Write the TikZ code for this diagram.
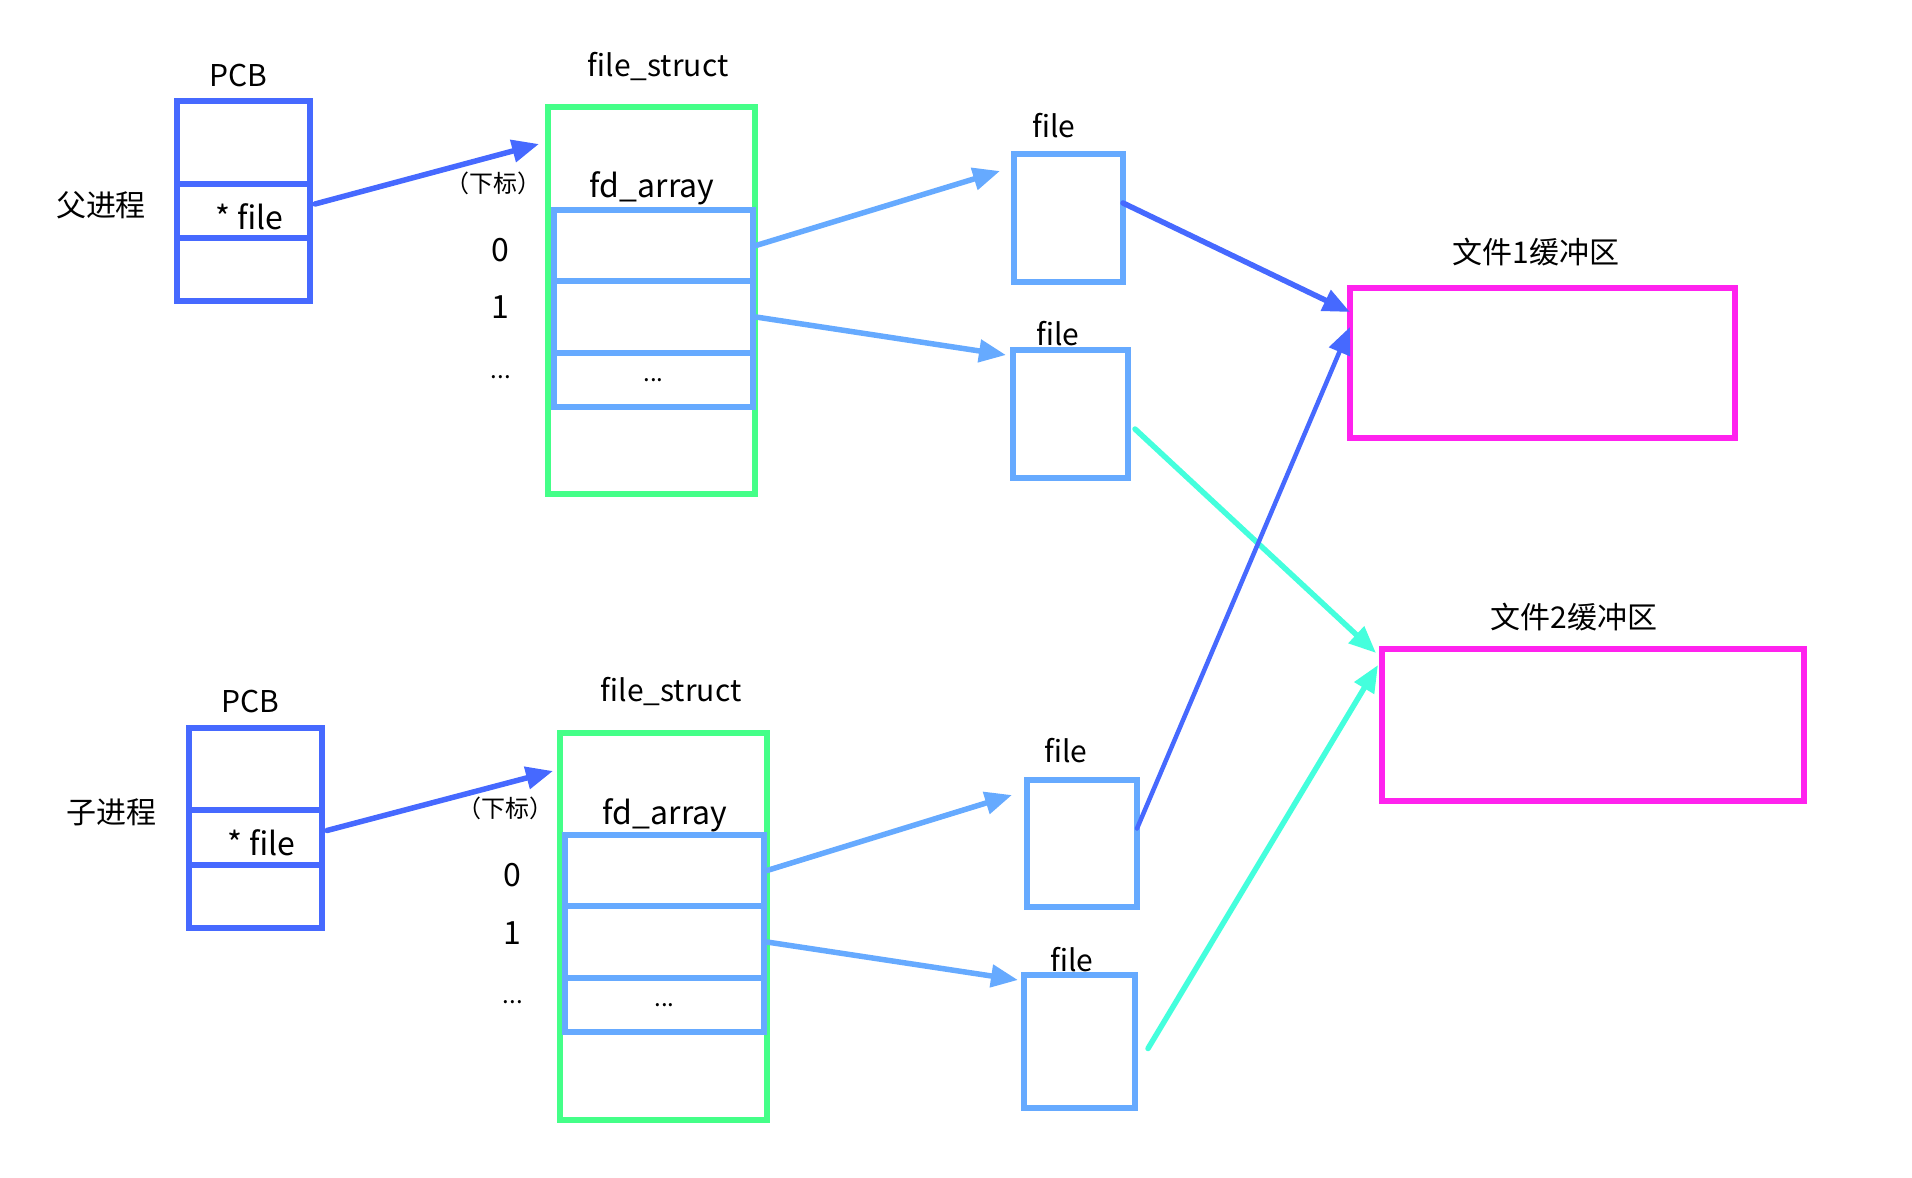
\documentclass[tikz,border=0pt]{standalone}
\usepackage{fontspec}
\setmainfont{Noto Sans CJK SC}
\usetikzlibrary{arrows.meta,positioning,calc}
\definecolor{pcbblue}{RGB}{70,105,255}
\definecolor{fsgreen}{RGB}{68,255,136}
\definecolor{fdblue}{RGB}{102,170,255}
\definecolor{bufpink}{RGB}{255,34,238}
\definecolor{bufcyan}{RGB}{68,255,221}

\begin{document}
\begin{tikzpicture}[
    x=1pt, y=-1pt,
    box/.style={rectangle, draw, line width=5.5pt, inner sep=0pt, outer sep=0pt, anchor=north west},
    pcb/.style={box, draw=pcbblue, minimum width=133pt},
    fs/.style={box, draw=fsgreen, minimum width=207pt, minimum height=387pt},
    cell/.style={box, draw=fdblue, minimum width=199pt},
    fileb/.style={box, draw=fdblue},
    buf/.style={box, draw=bufpink},
    lbl/.style={font=\fontsize{30}{36}\selectfont},
    big/.style={font=\fontsize{32}{38}\selectfont},
    small/.style={font=\fontsize{24}{28}\selectfont},
    arrow/.style={-{Triangle[length=27pt,width=22pt]}, line width=5.5pt, line cap=round}
]
    \useasboundingbox (0,0) rectangle (1912,1178);

    % parent process
    \node[lbl] (procA) at (101,205) {父进程};
    \node[lbl] (pcbA) at (238,76) {PCB};
    \node[pcb, minimum height=83pt] (pA1) at (177,101) {};
    \node[pcb, minimum height=54pt, below=0pt of pA1, big] (pA2) {\hspace{12pt}\raisebox{-18pt}[0pt][0pt]{* file}};
    \node[pcb, minimum height=63pt, below=0pt of pA2] (pA3) {};

    \node[lbl] (fsnameA) at (658,66) {file\_struct};
    \node[fs] (fsA) at (548,107) {};
    \node[big] (fdA) at (652,188) {fd\_array};
    \node[cell, minimum height=71pt] (cA0) at (554,210) {};
    \node[cell, minimum height=72pt, below=0pt of cA0] (cA1) {};
    \node[cell, minimum height=54pt, below=0pt of cA1, small] (cA2) {...};
    \node[small] (subA) at (493,183) {（下标）};
    \node[big] (iA0) at (500,250) {0};
    \node[big] (iA1) at (500,307) {1};
    \node[small] (iA2) at (501,377) {...};

    \node[lbl] (fnA1) at (1054,126) {file};
    \node[fileb, minimum width=109pt, minimum height=128pt] (fA1) at (1014,154) {};
    \node[lbl] (fnA2) at (1058,334) {file};
    \node[fileb, minimum width=115pt, minimum height=128pt] (fA2) at (1013,350) {};

    % child process
    \node[lbl] (procB) at (111,812) {子进程};
    \node[lbl] (pcbB) at (250,701) {PCB};
    \node[pcb, minimum height=82pt] (pB1) at (189,728) {};
    \node[pcb, minimum height=55pt, below=0pt of pB1, big] (pB2) {\hspace{12pt}\raisebox{-18pt}[0pt][0pt]{* file}};
    \node[pcb, minimum height=63pt, below=0pt of pB2] (pB3) {};

    \node[lbl] (fsnameB) at (671,691) {file\_struct};
    \node[fs] (fsB) at (560,733) {};
    \node[big] (fdB) at (665,815) {fd\_array};
    \node[cell, minimum height=71pt] (cB0) at (565,835) {};
    \node[cell, minimum height=72pt, below=0pt of cB0] (cB1) {};
    \node[cell, minimum height=54pt, below=0pt of cB1, small] (cB2) {...};
    \node[small] (subB) at (505,808) {（下标）};
    \node[big] (iB0) at (512,875) {0};
    \node[big] (iB1) at (512,933) {1};
    \node[small] (iB2) at (513,1002) {...};

    \node[lbl] (fnB1) at (1066,751) {file};
    \node[fileb, minimum width=110pt, minimum height=127pt] (fB1) at (1027,780) {};
    \node[lbl] (fnB2) at (1072,960) {file};
    \node[fileb, minimum width=111pt, minimum height=133pt] (fB2) at (1024,975) {};

    % buffers
    \node[lbl] (bname1) at (1536,252) {文件1缓冲区};
    \node[buf, minimum width=385pt, minimum height=150pt] (b1) at (1350,288) {};
    \node[lbl] (bname2) at (1574,617) {文件2缓冲区};
    \node[buf, minimum width=422pt, minimum height=152pt] (b2) at (1382,649) {};

    \draw[arrow, pcbblue] ([xshift=5pt,yshift=7pt]pA2.east) -- ([xshift=-9pt,yshift=-37pt]fsA.north west);
    \draw[arrow, fdblue] ([xshift=3pt]cA0.east) -- ([xshift=-14pt,yshift=-17pt]fA1.north west);
    \draw[arrow, fdblue] ([xshift=3pt]cA1.east) -- ([xshift=-7pt,yshift=-5pt]fA2.north west);
    \draw[arrow, pcbblue] ([yshift=15pt]fA1.east) -- ([yshift=-24pt]b1.north west);
    \draw[arrow, bufcyan] ([xshift=7pt,yshift=-15pt]fA2.east) -- ([xshift=-6pt,yshift=-4pt]b2.north west);

    \draw[arrow, pcbblue] ([xshift=5pt,yshift=7pt]pB2.east) -- ([xshift=-7pt,yshift=-38pt]fsB.north west);
    \draw[arrow, fdblue] ([xshift=3pt]cB0.east) -- ([xshift=-15pt,yshift=-15pt]fB1.north west);
    \draw[arrow, fdblue] ([xshift=3pt]cB1.east) -- ([xshift=-6pt,yshift=-5pt]fB2.north west);
    \draw[arrow, pcbblue, line width=4.5pt] ([yshift=15pt]fB1.east) -- ([yshift=-39pt]b1.north west);
    \draw[arrow, bufcyan] ([xshift=13pt,yshift=-7pt]fB2.east) -- ([xshift=-4pt,yshift=-16pt]b2.north west);
\end{tikzpicture}
\end{document}
